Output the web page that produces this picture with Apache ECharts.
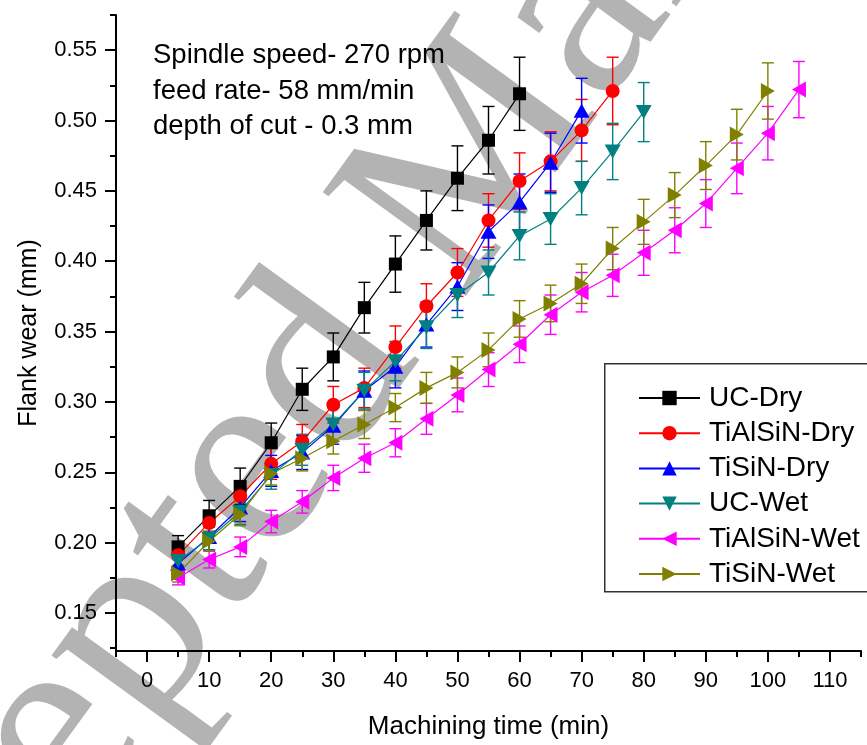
<!DOCTYPE html>
<html><head><meta charset="utf-8">
<script src="https://cdn.jsdelivr.net/npm/echarts@6/dist/echarts.min.js"></script>
<style>html,body{margin:0;padding:0;background:#fff}#c{width:867px;height:745px}</style>
</head><body><div id="c"></div>
<script>
// ---- data ----
const times = [5,10,15,20,25,30,35,40,45,50,55,60,65,70,75,80,85,90,95,100,105];
const seriesNames = ['UC-Dry','TiAlSiN-Dry','TiSiN-Dry','UC-Wet','TiAlSiN-Wet','TiSiN-Wet'];
const ucDry = [0.197,0.219,0.240,0.271,0.309,0.332,0.367,0.398,0.429,0.459,0.486,0.519];
const ucDryErr = [0.008,0.011,0.013,0.014,0.015,0.017,0.018,0.020,0.021,0.023,0.024,0.026];
const tialsinDry = [0.191,0.214,0.233,0.256,0.272,0.298,0.310,0.339,0.368,0.392,0.429,0.457,0.471,0.493,0.521];
const tialsinDryErr = [0.008,0.009,0.010,0.011,0.012,0.013,0.014,0.015,0.016,0.017,0.019,0.020,0.021,0.022,0.024];
const tisinDry = [0.185,0.204,0.225,0.251,0.264,0.283,0.308,0.325,0.355,0.382,0.421,0.442,0.470,0.507];
const tisinDryErr = [0.008,0.009,0.010,0.011,0.012,0.013,0.014,0.015,0.016,0.017,0.019,0.020,0.021,0.023];
const ucWet = [0.187,0.203,0.222,0.248,0.266,0.284,0.308,0.329,0.353,0.376,0.392,0.418,0.430,0.452,0.478,0.506];
const ucWetErr = [0.007,0.008,0.009,0.010,0.011,0.012,0.013,0.014,0.015,0.016,0.016,0.017,0.018,0.019,0.020,0.021];
const tialsinWet = [0.175,0.188,0.197,0.215,0.229,0.246,0.260,0.271,0.288,0.305,0.323,0.341,0.362,0.378,0.390,0.406,0.422,0.441,0.466,0.491,0.522];
const tialsinWetErr = [0.005,0.006,0.007,0.008,0.008,0.009,0.010,0.010,0.011,0.012,0.012,0.013,0.014,0.014,0.015,0.016,0.016,0.017,0.018,0.019,0.020];
const tisinWet = [0.178,0.201,0.220,0.249,0.260,0.272,0.284,0.296,0.310,0.321,0.337,0.359,0.370,0.384,0.409,0.428,0.447,0.468,0.490,0.521];
const tisinWetErr = [0.006,0.007,0.008,0.008,0.009,0.009,0.010,0.010,0.011,0.011,0.012,0.013,0.013,0.014,0.015,0.016,0.016,0.017,0.018,0.020];
const xTickLabels = [0,10,20,30,40,50,60,70,80,90,100,110];
const xMinorTicks = [-5,5,15,25,35,45,55,65,75,85,95,105,115];
const yTickLabels = [0.15,0.20,0.25,0.30,0.35,0.40,0.45,0.50,0.55];
const yMinorTicks = [0.125,0.175,0.225,0.275,0.325,0.375,0.425,0.475,0.525,0.575];
const annotationLines = ['Spindle speed- 270 rpm','feed rate- 58 mm/min','depth of cut - 0.3 mm'];
const xTitle = 'Machining time (min)';
const yTitle = 'Flank wear (mm)';
const watermarkText = 'Accepted Manuscript';

// ---- style ----
const values = [ucDry, tialsinDry, tisinDry, ucWet, tialsinWet, tisinWet];
const errs = [ucDryErr, tialsinDryErr, tisinDryErr, ucWetErr, tialsinWetErr, tisinWetErr];
const colors = ['#000000','#ff0000','#0000ff','#008080','#ff00ff','#808000'];
const symbols = ['rect','circle','triangle','path://M0,0 L10,0 L5,9 Z','path://M0,5 L9,0 L9,10 Z','path://M0,0 L9,5 L0,10 Z'];
const symbolSizes = [13,14,[16,14],[16,14],[14,16],[14,16]];
const FONT = '"Liberation Sans", Arial, sans-serif';

function makeErrRender(color){
  return function(params, api){
    const x = api.value(0);
    const top = api.coord([x, api.value(2)]);
    const bot = api.coord([x, api.value(1)]);
    const hw = 6;
    const st = {stroke: color, lineWidth: 1.4};
    return {type:'group', children:[
      {type:'line', shape:{x1:top[0],y1:top[1],x2:bot[0],y2:bot[1]}, style:st},
      {type:'line', shape:{x1:top[0]-hw,y1:top[1],x2:top[0]+hw,y2:top[1]}, style:st},
      {type:'line', shape:{x1:bot[0]-hw,y1:bot[1],x2:bot[0]+hw,y2:bot[1]}, style:st}
    ]};
  };
}

const series = [];
values.forEach((vals, k) => {
  const e = errs[k];
  series.push({
    type:'custom', name: seriesNames[k] + ' err', xAxisIndex:0, yAxisIndex:0,
    renderItem: makeErrRender(colors[k]),
    encode:{x:0, y:[1,2]},
    data: vals.map((v,i) => [times[i], v - e[i], v + e[i]]),
    silent:true, z:2
  });
  series.push({
    type:'line', name: seriesNames[k], xAxisIndex:0, yAxisIndex:0,
    data: vals.map((v,i) => [times[i], v]),
    symbol: symbols[k], symbolSize: symbolSizes[k], showAllSymbol:true,
    itemStyle:{color: colors[k], opacity:1},
    lineStyle:{color: colors[k], width:1.2},
    z:2
  });
});

const axisLineStyle = {color:'#000', width:2};
const option = {
  animation:false,
  backgroundColor:'#fff',
  grid:{left:116, top:15, right:6, bottom:90, containLabel:false},
  xAxis:[
    {type:'value', position:'bottom', min:-5, max:115,
     axisLine:{show:true, onZero:false, lineStyle:axisLineStyle},
     axisTick:{show:true, customValues:xTickLabels, length:11, lineStyle:{color:'#000', width:2}},
     axisLabel:{show:true, customValues:xTickLabels, margin:19, color:'#000', fontSize:22, fontFamily:FONT},
     splitLine:{show:false},
     name:xTitle, nameLocation:'middle', nameGap:63,
     nameTextStyle:{color:'#000', fontSize:26, fontFamily:FONT}},
    {type:'value', position:'bottom', min:-5, max:115,
     axisLine:{show:false, onZero:false},
     axisTick:{show:true, customValues:xMinorTicks, length:6, lineStyle:{color:'#000', width:2}},
     axisLabel:{show:false}, splitLine:{show:false}}
  ],
  yAxis:[
    {type:'value', position:'left', min:0.123, max:0.575,
     axisLine:{show:true, onZero:false, lineStyle:axisLineStyle},
     axisTick:{show:true, customValues:yTickLabels, length:11, lineStyle:{color:'#000', width:2}},
     axisLabel:{show:true, customValues:yTickLabels, margin:19, color:'#000', fontSize:22, fontFamily:FONT,
       formatter: v => v.toFixed(2)},
     splitLine:{show:false},
     name:yTitle, nameLocation:'middle', nameGap:74, nameRotate:90,
     nameTextStyle:{color:'#000', fontSize:25, fontFamily:FONT}},
    {type:'value', position:'left', min:0.123, max:0.575,
     axisLine:{show:false, onZero:false},
     axisTick:{show:true, customValues:yMinorTicks, length:6, lineStyle:{color:'#000', width:2}},
     axisLabel:{show:false}, splitLine:{show:false}}
  ],
  legend:{
    data: seriesNames, orient:'vertical', left:638, top:384, padding:0,
    itemWidth:61, itemHeight:18, itemGap:7.2,
    textStyle:{color:'#000', fontSize:28, fontFamily:FONT, padding:[0,0,0,4]},
    selectedMode:false
  },
  graphic:[
    {type:'text', x:-235, y:1140, rotation:0.9425, z:-10, silent:true,
     style:{text: watermarkText, font:'270px "Liberation Serif", serif', fill:'#b3b3b3', align:'left', verticalAlign:'middle'}},
    {type:'rect', left:604, top:363, z:0, silent:true,
     shape:{width:275, height:228}, style:{fill:'#fff', stroke:'#333', lineWidth:1.5}},
    {type:'text', left:153, top:38, z:5, silent:true,
     style:{text: annotationLines.join('\n'), font:'27.5px ' + FONT, fill:'#000', lineHeight:35.5}}
  ],
  series: series
};
const chart = echarts.init(document.getElementById('c'), null, {renderer:'canvas'});
chart.setOption(option);
</script></body></html>
